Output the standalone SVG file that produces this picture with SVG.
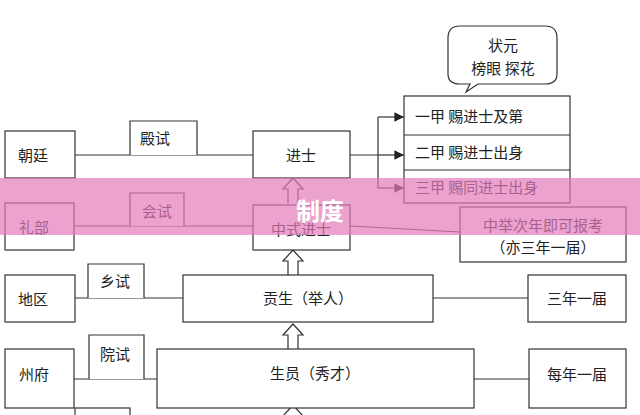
<svg xmlns="http://www.w3.org/2000/svg" width="640" height="415" viewBox="0 0 640 415">
<style>
.b{fill:#fff;stroke:#333;stroke-width:1.2}
.l{fill:none;stroke:#333;stroke-width:1.2}
.t{font-family:"Noto Sans CJK SC",sans-serif;font-size:15px;fill:#222;text-anchor:middle;dominant-baseline:central}
.ar{fill:#fff;stroke:#333;stroke-width:1.2}
</style>
<defs>
<marker id="m" viewBox="0 0 10 10" refX="10" refY="5" markerWidth="8" markerHeight="8" orient="auto"><path d="M0,0L10,5L0,10z" fill="#222"/></marker>
<path id="up" d="M-5,0V-14H-10L0,-25L10,-14H5V0"/>
</defs>
<rect width="640" height="415" fill="#fff"/>
<g id="connectors">
<path class="l" d="M75,155H253M350,155H378M378,117V188"/>
<path class="l" d="M378,117H404" marker-end="url(#m)"/>
<path class="l" d="M378,155H404" marker-end="url(#m)"/>
<path class="l" d="M378,188H404" marker-end="url(#m)"/>
<path class="l" d="M74,226H253M350,226L460,232"/>
<path class="l" d="M75,298H183M433,298H528"/>
<path class="l" d="M74,379H157M474,379H529"/>
<use href="#up" class="ar" x="293" y="203"/>
<use href="#up" class="ar" x="293" y="275"/>
<use href="#up" class="ar" x="293" y="349"/>
<use href="#up" class="ar" x="293" y="430"/>
</g>
<g id="chaoting"><rect class="b" x="5" y="131" width="70" height="47"/><text class="t" x="33" y="154">朝廷</text></g>
<g id="dianshi"><path class="b" d="M130,155V121H197V155"/><text class="t" x="155" y="137">殿试</text></g>
<g id="jinshi"><rect class="b" x="253" y="131" width="97" height="47"/><text class="t" x="301" y="154">进士</text></g>
<g id="bubble"><path class="b" d="M460,26H545Q557,26 557,38V74Q557,84 545,84H478L466,92L470,84H460Q448,84 448,74V38Q448,26 460,26Z"/><text class="t" x="503" y="44">状元</text><text class="t" x="503" y="67">榜眼  探花</text></g>
<g id="ranks"><rect class="b" x="404" y="96" width="166" height="107"/><path class="l" d="M404,135H570M404,170H570"/>
<text class="t" x="415" y="115" style="text-anchor:start">一甲  赐进士及第</text>
<text class="t" x="415" y="151" style="text-anchor:start">二甲  赐进士出身</text>
<text class="t" x="415" y="186" style="text-anchor:start">三甲  赐同进士出身</text></g>
<g id="libu"><rect class="b" x="5" y="203" width="69" height="47"/><text class="t" x="34" y="226">礼部</text></g>
<g id="huishi"><path class="b" d="M130,226V193H184V226"/><text class="t" x="157" y="210">会试</text></g>
<g id="zhongshi"><rect class="b" x="253" y="205" width="97" height="45"/><text class="t" x="301" y="228">中式进士</text></g>
<g id="zhongju"><rect class="b" x="460" y="207" width="166" height="55"/><text class="t" x="543" y="224">中举次年即可报考</text><text class="t" x="543" y="246">（亦三年一届）</text></g>
<g id="diqu"><rect class="b" x="5" y="275" width="70" height="47"/><text class="t" x="33" y="298">地区</text></g>
<g id="xiangshi"><path class="b" d="M88,298V264H144V298"/><text class="t" x="115" y="280">乡试</text></g>
<g id="gongsheng"><rect class="b" x="183" y="275" width="250" height="47"/><text class="t" x="308" y="297">贡生（举人）</text></g>
<g id="sannian"><rect class="b" x="528" y="275" width="98" height="47"/><text class="t" x="577" y="297">三年一届</text></g>
<g id="zhoufu"><rect class="b" x="5" y="349" width="69" height="59"/><text class="t" x="34" y="373">州府</text></g>
<g id="yuanshi"><path class="b" d="M89,379V335H144V379"/><text class="t" x="115" y="353">院试</text></g>
<g id="shengyuan"><rect class="b" x="157" y="349" width="317" height="59"/><text class="t" x="315" y="372">生员（秀才）</text></g>
<g id="meinian"><rect class="b" x="529" y="349" width="97" height="59"/><text class="t" x="577" y="373">每年一届</text></g>
<g id="bottom"><rect class="b" x="75" y="408" width="55" height="20"/></g>
<rect x="0" y="178" width="640" height="57" fill="#e27bb9" opacity="0.7"/>
<text x="320" y="209" style="font-family:'Noto Sans CJK SC',sans-serif;font-size:24px;font-weight:bold;fill:#fff;text-anchor:middle;dominant-baseline:central">制度</text>
</svg>
